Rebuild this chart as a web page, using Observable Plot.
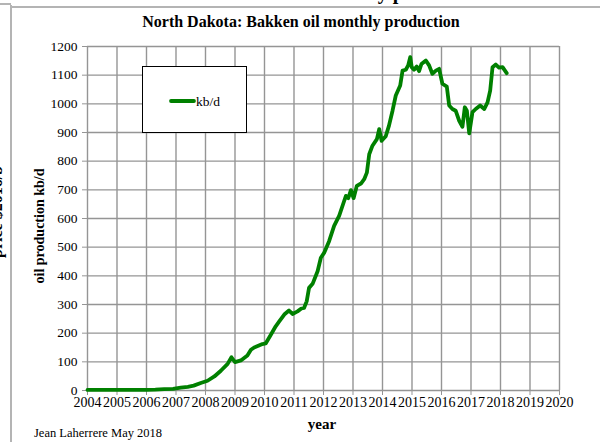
<!DOCTYPE html>
<html>
<head>
<meta charset="utf-8">
<script src="https://cdn.jsdelivr.net/npm/d3@7"></script>
<script src="https://cdn.jsdelivr.net/npm/@observablehq/plot@0.6"></script>
<style>
  html, body { margin: 0; padding: 0; background: #fff; }
  #wrap { position: relative; width: 602px; height: 442px; overflow: hidden; font-family: "Liberation Serif", "Times New Roman", serif; }
  #wrap svg.plot { position: absolute; left: 0; top: 0; }
  .abs { position: absolute; white-space: nowrap; }
</style>
</head>
<body>
<div id="wrap"></div>
<script>
// ---- data ----
const years = [2004.0, 2004.5, 2005.0, 2005.5, 2006.0, 2006.3, 2006.6, 2006.9, 2007.16, 2007.4, 2007.6, 2007.84,
  2008.07, 2008.3, 2008.52, 2008.75, 2008.88, 2009.0, 2009.2, 2009.42, 2009.54, 2009.65, 2009.93, 2010.04,
  2010.2, 2010.38, 2010.5, 2010.67, 2010.83, 2010.95, 2011.12, 2011.25, 2011.34, 2011.43, 2011.51, 2011.63,
  2011.8, 2011.91, 2012.02, 2012.19, 2012.36, 2012.53, 2012.7, 2012.76, 2012.84, 2012.93, 2013.02, 2013.13,
  2013.27, 2013.38, 2013.47, 2013.55, 2013.66, 2013.81, 2013.89, 2013.97, 2014.11, 2014.22, 2014.34, 2014.45,
  2014.6, 2014.68, 2014.79, 2014.87, 2014.94, 2014.99, 2015.07, 2015.16, 2015.24, 2015.32, 2015.47, 2015.58,
  2015.69, 2015.81, 2015.92, 2016.03, 2016.18, 2016.26, 2016.37, 2016.48, 2016.6, 2016.71, 2016.79, 2016.86,
  2016.94, 2017.05, 2017.16, 2017.31, 2017.45, 2017.56, 2017.65, 2017.73, 2017.84, 2017.95, 2018.07, 2018.21];
const kbd = [2, 2, 2, 2, 2, 3, 5, 6, 10, 13, 17, 26,
  34, 49, 69, 93, 116, 99, 105, 122, 142, 150, 162, 164,
  192, 224, 241, 265, 279, 267, 276, 286, 288, 311, 358, 372,
  416, 463, 480, 521, 574, 609, 661, 679, 671, 699, 671, 714,
  722, 737, 760, 824, 854, 877, 912, 871, 887, 924, 976, 1029,
  1064, 1116, 1119, 1134, 1163, 1128, 1119, 1130, 1114, 1139, 1151, 1134,
  1105, 1116, 1122, 1070, 1060, 994, 982, 976, 941, 920, 988, 976,
  897, 971, 982, 994, 982, 1005, 1046, 1128, 1137, 1126, 1128, 1107];
const xTicks = [2004, 2005, 2006, 2007, 2008, 2009, 2010, 2011, 2012, 2013, 2014, 2015, 2016, 2017, 2018, 2019, 2020];
const yTicks = [0, 100, 200, 300, 400, 500, 600, 700, 800, 900, 1000, 1100, 1200];
const seriesName = "kb/d";
const titleText = "North Dakota: Bakken oil monthly production";
const yLabel = "oil production kb/d";
const xLabel = "year";
const credit = "Jean Laherrere May 2018";
const outerTitle = "North Dakota: Bakken oil monthly production";
const outerYLabel = "price $2016/b";

const data = years.map((y, i) => ({year: y, kbd: kbd[i]}));
const font = '"Liberation Serif", "Times New Roman", serif';
const green = "#008000";
const gridColor = "#959595";

const plot = Plot.plot({
  width: 602,
  height: 442,
  marginLeft: 87,
  marginRight: 43,
  marginTop: 46,
  marginBottom: 52,
  style: {fontFamily: font, fontSize: "13.5px", color: "#000", background: "transparent", overflow: "visible"},
  x: {domain: [2004, 2020], label: null},
  y: {domain: [0, 1200], label: null},
  marks: [
    Plot.gridX(xTicks, {stroke: gridColor, strokeOpacity: 1, strokeWidth: 1.4}),
    Plot.gridY(yTicks, {stroke: gridColor, strokeOpacity: 1, strokeWidth: 1.4}),
    Plot.axisX(xTicks, {tickFormat: d => String(d), tickSize: 5, tickPadding: 2, fontSize: 14, fontFamily: font, stroke: gridColor, label: null}),
    Plot.axisY(yTicks, {tickFormat: d => String(d), tickSize: 5, tickPadding: 5, fontSize: 13.5, fontFamily: font, stroke: gridColor, label: null}),
    Plot.line(data, {x: "year", y: "kbd", stroke: green, strokeWidth: 3.8, strokeLinejoin: "round", strokeLinecap: "round"})
  ]
});
plot.classList.add("plot");
const wrap = document.getElementById("wrap");
wrap.appendChild(plot);

function addDiv(html, style) {
  const d = document.createElement("div");
  d.className = "abs";
  d.textContent = html;
  Object.assign(d.style, style);
  wrap.appendChild(d);
  return d;
}

// outer frame remnants of the original page
addDiv("", {left: "10px", top: "5px", width: "2px", height: "437px", background: "#b4b4b4"});
addDiv("", {left: "11px", top: "6px", width: "589px", height: "2px", background: "#b4b4b4"});
addDiv("", {left: "0px", top: "3px", width: "11px", height: "1.5px", background: "#b4b4b4"});

// texts of the surrounding page, cut by the picture's edges as in the reference
addDiv(outerTitle, {left: "90px", top: "-19px", fontSize: "20px", fontWeight: "bold"});
addDiv(outerYLabel, {left: "-63px", width: "120px", top: "203px", lineHeight: "18px", fontSize: "16px", fontWeight: "bold", transform: "rotate(-90deg)", transformOrigin: "50% 50%", textAlign: "center"});

// title
addDiv(titleText, {left: "0px", width: "602px", top: "13px", textAlign: "center", fontSize: "16px", fontWeight: "bold"});
// axis titles
addDiv(yLabel, {left: "-30px", width: "140px", top: "218px", textAlign: "center", fontSize: "14px", fontWeight: "bold", transform: "rotate(-90deg)", transformOrigin: "50% 50%", lineHeight: "16px"});
addDiv(xLabel, {left: "272px", width: "100px", top: "416px", textAlign: "center", fontSize: "15px", fontWeight: "bold"});
addDiv(credit, {left: "34px", top: "426px", fontSize: "12.5px"});

// legend box
const lg = addDiv("", {left: "142px", top: "66px", width: "103px", height: "65px", border: "1px solid #000", background: "#fff"});
const lgs = d3.select(lg).append("svg").attr("width", 103).attr("height", 65).style("position", "absolute").style("left", "0").style("top", "0");
lgs.append("line").attr("x1", 28).attr("x2", 51).attr("y1", 34).attr("y2", 34).attr("stroke", green).attr("stroke-width", 3.8).attr("stroke-linecap", "round");
lgs.append("text").attr("x", 53).attr("y", 38.5).attr("font-family", font).attr("font-size", 13.5).text(seriesName);
</script>
</body>
</html>
